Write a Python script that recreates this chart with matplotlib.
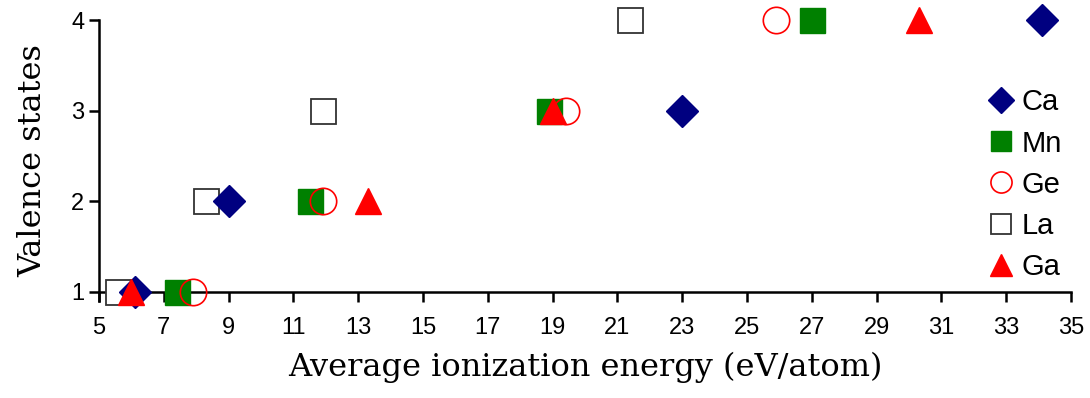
import numpy as np
import matplotlib.pyplot as plt

plt.rcParams['font.family'] = 'Liberation Sans'

valence = [1, 2, 3, 4]
ca = [6.1, 9.0, 23.0, 34.1]
mn = [7.4, 11.5, 18.9, 27.0]
ge = [7.9, 11.9, 19.4, 25.9]
la = [5.6, 8.3, 11.9, 21.4]
ga = [6.0, 13.3, 19.0, 30.3]

fig = plt.figure(figsize=(10.9, 3.98), dpi=100)
ax = fig.add_axes([0.0908, 0.2437, 0.8918, 0.706])

h_la, = ax.plot(la, valence, 's', ms=18, mfc='white', mec='#333333', mew=1.3,
                label='La', clip_on=False, zorder=3)
h_ca, = ax.plot(ca, valence, 'D', ms=16, color='#000080', label='Ca',
                clip_on=False, zorder=4)
h_mn, = ax.plot(mn, valence, 's', ms=18, color='#008000', label='Mn',
                clip_on=False, zorder=5)
h_ge, = ax.plot(ge, valence, 'o', ms=19, mfc='none', mec='red', mew=1.2,
                label='Ge', clip_on=False, zorder=6)
h_ga, = ax.plot(ga, valence, '^', ms=19, color='red', label='Ga',
                clip_on=False, zorder=7)

ax.set_xlim(5, 35)
ax.set_ylim(0.9, 4)
ax.set_xticks(np.arange(5, 36, 2))
ax.set_yticks([1, 2, 3, 4])
ax.spines['top'].set_visible(False)
ax.spines['right'].set_visible(False)
ax.spines['bottom'].set_position(('data', 1))
ax.spines['left'].set_linewidth(1.8)
ax.spines['bottom'].set_linewidth(1.8)
ax.tick_params(width=1.8, length=7, labelsize=17, direction='out')
ax.tick_params(axis='x', pad=11)

ax.set_xlabel('Average ionization energy (eV/atom)', family='DejaVu Serif',
              fontsize=23)
ax.set_ylabel('Valence states', family='DejaVu Serif', fontsize=23)
ax.xaxis.set_label_coords(0.5, -0.18)
ax.yaxis.set_label_coords(-0.052, 0.5)

ax.legend(handles=[h_ca, h_mn, h_ge, h_la, h_ga], loc='upper right',
          bbox_to_anchor=(1.018, 0.85), frameon=False, handlelength=0.8,
          handletextpad=0.3, labelspacing=0.45, markerscale=0.8,
          prop={'family': 'Liberation Sans', 'size': 21})

fig.savefig('out.png', dpi=100)
